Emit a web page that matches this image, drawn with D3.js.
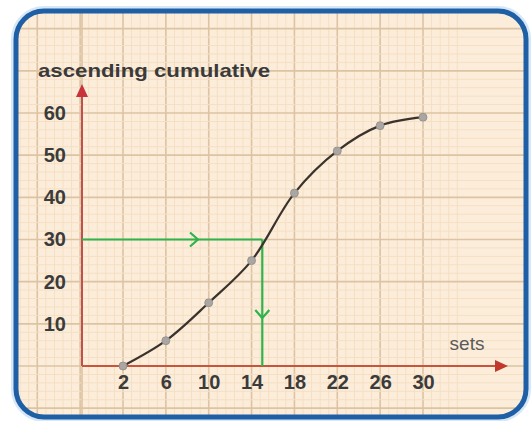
<!DOCTYPE html>
<html>
<head>
<meta charset="utf-8">
<script src="https://cdn.jsdelivr.net/npm/d3@7"></script>
<style>
  html, body { margin: 0; padding: 0; background: #ffffff; }
  svg { display: block; }
</style>
</head>
<body>
<svg id="chart" width="531" height="421"></svg>
<script>
// ---- data ----
const sets = [2, 6, 10, 14, 18, 22, 26, 30];
const cumulative = [0, 6, 15, 25, 41, 51, 57, 59];
const xTicks = [2, 6, 10, 14, 18, 22, 26, 30];
const yTicks = [10, 20, 30, 40, 50, 60];
const readValue = 30;      // value read on the y axis
const readSets = 15;       // corresponding value on the x axis
const yTitle = "ascending cumulative";
const xTitle = "sets";

const svg = d3.select("#chart");

// scales: x(2)=123, x(30)=423 ; y(0)=366, y(60)=113
const x = d3.scaleLinear().domain([2, 30]).range([123, 423]);
const y = d3.scaleLinear().domain([0, 60]).range([366, 113]);

const originX = 82;   // where the y axis is drawn
const originY = y(0);
const font = "Liberation Sans, Arial, sans-serif";

// ---- panel / frame ----
const frame = { x: 16, y: 11, w: 510, h: 406, r: 28 };
svg.append("defs").append("clipPath").attr("id", "panelClip")
  .append("rect").attr("x", frame.x).attr("y", frame.y)
  .attr("width", frame.w).attr("height", frame.h).attr("rx", frame.r);

// outer glow
svg.append("rect").attr("x", frame.x).attr("y", frame.y)
  .attr("width", frame.w).attr("height", frame.h).attr("rx", frame.r)
  .attr("fill", "none").attr("stroke", "#d6e8f7").attr("stroke-width", 10);

const panel = svg.append("g").attr("clip-path", "url(#panelClip)");
panel.append("rect").attr("x", frame.x).attr("y", frame.y)
  .attr("width", frame.w).attr("height", frame.h).attr("fill", "#fcedda");

// graph paper grid: minor and major lines
const stepX = x(6) - x(2);
const stepY = y(0) - y(10);
const minorX = stepX / 5, minorY = stepY / 5;
const xs = d3.range(-30, 40).map(i => x(2) + i * minorX).filter(v => v > frame.x - 2 && v < frame.x + frame.w + 2);
const ys = d3.range(-40, 30).map(i => originY + i * minorY).filter(v => v > frame.y - 2 && v < frame.y + frame.h + 2);

const grid = panel.append("g");
const isMajor = (d, step) => Math.abs(d / step - Math.round(d / step)) < 0.01;
xs.forEach(v => {
  const major = isMajor(v - x(2), stepX);
  grid.append("line").attr("x1", v).attr("x2", v).attr("y1", frame.y).attr("y2", frame.y + frame.h)
    .attr("stroke", major ? "#dcc3a2" : "#f5dfc4").attr("stroke-width", major ? 1.6 : 1);
});
ys.forEach(v => {
  const major = isMajor(originY - v, stepY);
  grid.append("line").attr("y1", v).attr("y2", v).attr("x1", frame.x).attr("x2", frame.x + frame.w)
    .attr("stroke", major ? "#dcc3a2" : "#f5dfc4").attr("stroke-width", major ? 1.6 : 1);
});
grid.append("line").attr("x1", originX).attr("x2", originX).attr("y1", frame.y).attr("y2", frame.y + frame.h)
  .attr("stroke", "#dcc3a2").attr("stroke-width", 1.6);

// frame stroke
svg.append("rect").attr("x", frame.x).attr("y", frame.y)
  .attr("width", frame.w).attr("height", frame.h).attr("rx", frame.r)
  .attr("fill", "none").attr("stroke", "#1f5fa6").attr("stroke-width", 5);

// ---- axes ----
const axisG = svg.append("g");
axisG.append("line").attr("x1", originX).attr("x2", originX).attr("y1", originY).attr("y2", 95)
  .attr("stroke", "#c0504a").attr("stroke-width", 2);
axisG.append("path").attr("d", `M${originX},84 L${originX - 6},97 L${originX + 6},97 Z`).attr("fill", "#c8323a");
axisG.append("line").attr("x1", originX).attr("x2", 496).attr("y1", originY).attr("y2", originY)
  .attr("stroke", "#c8553a").attr("stroke-width", 2);
axisG.append("path").attr("d", `M508,${originY} L495,${originY - 6} L495,${originY + 6} Z`).attr("fill", "#c0392b");

// y tick labels
const yAxis = d3.axisLeft(y).tickValues(yTicks).tickSize(0).tickPadding(0).tickFormat(d3.format("d"));
const yg = svg.append("g").attr("transform", "translate(66,0)").call(yAxis);
yg.select(".domain").remove();
yg.selectAll("text").attr("font-family", font)
  .attr("font-size", 20).attr("font-weight", "bold").attr("fill", "#3b3b3b");

// x tick labels
const xAxis = d3.axisBottom(x).tickValues(xTicks).tickSize(0).tickPadding(0).tickFormat(d3.format("d"));
const xg = svg.append("g").attr("transform", `translate(0,${originY + 9})`).call(xAxis);
xg.select(".domain").remove();
xg.selectAll("text").attr("font-family", font)
  .attr("font-size", 20).attr("font-weight", "bold").attr("fill", "#3b3b3b");

// titles
svg.append("text").attr("x", 38).attr("y", 77).text(yTitle)
  .attr("font-family", font).attr("font-size", 19)
  .attr("textLength", 232).attr("lengthAdjust", "spacingAndGlyphs")
  .attr("font-weight", "bold").attr("fill", "#3a3a3a");
svg.append("text").attr("x", 467).attr("y", 350).attr("text-anchor", "middle").text(xTitle)
  .attr("font-family", font).attr("font-size", 19)
  .attr("fill", "#5a5a5a");

// ---- green reading lines ----
const green = "#2fb34a";
const gg = svg.append("g").attr("stroke", green).attr("stroke-width", 2.2).attr("fill", "none");
gg.append("line").attr("x1", originX).attr("x2", x(readSets)).attr("y1", y(readValue)).attr("y2", y(readValue));
gg.append("line").attr("x1", x(readSets)).attr("x2", x(readSets)).attr("y1", y(readValue)).attr("y2", originY);
const hx = 198, hy = y(readValue);
gg.append("path").attr("d", `M${hx - 8},${hy - 7} L${hx},${hy} L${hx - 8},${hy + 7}`);
const vx = x(readSets), vy = 318;
gg.append("path").attr("d", `M${vx - 7},${vy - 8} L${vx},${vy} L${vx + 7},${vy - 8}`);

// ---- curve & points ----
const pts = sets.map((s, i) => [x(s), y(cumulative[i])]);
svg.append("path").datum(pts)
  .attr("d", d3.line().curve(d3.curveCatmullRom.alpha(0.5)))
  .attr("fill", "none").attr("stroke", "#3a332d").attr("stroke-width", 2.2);
svg.append("g").selectAll("circle").data(pts).join("circle")
  .attr("cx", d => d[0]).attr("cy", d => d[1]).attr("r", 4)
  .attr("fill", "#a9a6a4").attr("stroke", "#8e8b88").attr("stroke-width", 0.8);
</script>
</body>
</html>
